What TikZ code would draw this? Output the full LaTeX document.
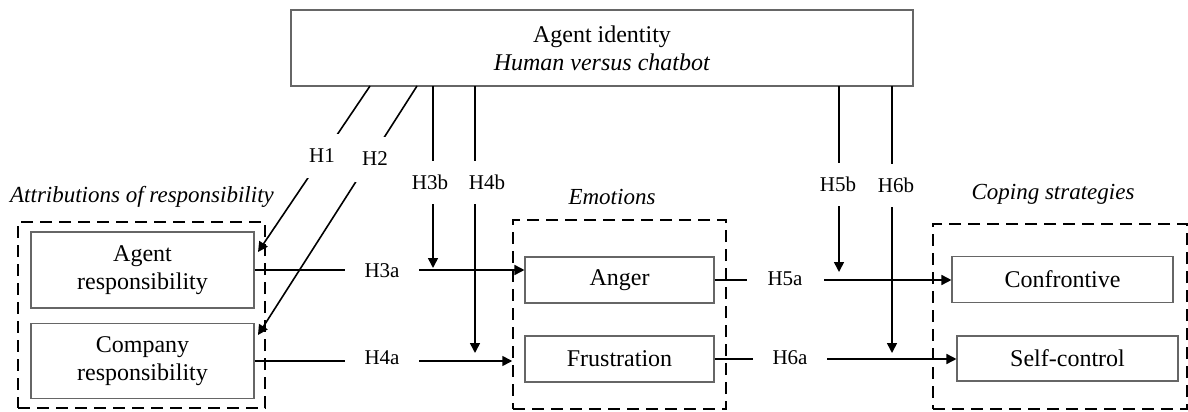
\documentclass[tikz,border=0pt]{standalone}
\usepackage{fontspec}
\setmainfont{Liberation Serif}
\usetikzlibrary{arrows.meta,calc}
\begin{document}
\begin{tikzpicture}[x=1pt,y=-1pt,
  box/.style={draw=black!60, line width=1.1pt, align=center, inner sep=0pt,
              font=\fontsize{24}{28}\selectfont},
  grp/.style={draw=black, line width=1.5pt, dash pattern=on 12pt off 7pt, inner sep=0pt},
  head/.style={font=\fontsize{23}{27}\selectfont\itshape, inner sep=0pt},
  hlab/.style={fill=white, inner sep=0pt, font=\fontsize{21}{24}\selectfont},
  arr/.style={line width=1.6pt, -{Triangle[length=10pt,width=10pt]}}]
\useasboundingbox (0,0) rectangle (1188,412);

% group frames
\node[grp, minimum width=247pt, minimum height=186pt] (attr) at (141.5,315) {};
\node[grp, minimum width=213pt, minimum height=189pt] (emo) at (619.5,314.5) {};
\node[grp, minimum width=254pt, minimum height=185pt] (cop) at (1060,316.5) {};

% headings
\node[head] (hattr) at (142,197) {Attributions of responsibility};
\node[head] (hemo) at (612,197) {Emotions};
\node[head] (hcop) at (1053,194) {Coping strategies};

% boxes
\node[box, minimum width=622pt, minimum height=76pt] (top) at (602,48)
  {Agent identity\\\textit{Human versus chatbot}};
\node[box, minimum width=223pt, minimum height=76pt] (ag) at (142.5,270) {Agent\\responsibility};
\node[box, minimum width=223pt, minimum height=75pt] (co) at (142.5,361) {Company\\responsibility};
\node[box, minimum width=189pt, minimum height=46pt] (an) at (619.5,280) {Anger};
\node[box, minimum width=189pt, minimum height=46pt] (fr) at (619.5,359) {Frustration};
\node[box, minimum width=221pt, minimum height=46pt] (cf) at (1062.5,279.5) {Confrontive};
\node[box, minimum width=221pt, minimum height=45pt] (sc) at (1067.5,358.5) {Self-control};

% connector end points
\coordinate (h1s) at (370,86);  \coordinate (h1e) at (258,252);
\coordinate (h2s) at (417,86);  \coordinate (h2e) at (258,335);
\coordinate (h3bs) at (433,86); \coordinate (h3be) at (433,268);
\coordinate (h4bs) at (475,86); \coordinate (h4be) at (475,353);
\coordinate (h5bs) at (839,86); \coordinate (h5be) at (839,272);
\coordinate (h6bs) at (892,86); \coordinate (h6be) at (892,353);

% connectors
\draw[arr] (h1s) -- (h1e);
\draw[arr] (h2s) -- (h2e);
\draw[arr] (h3bs) -- (h3be);
\draw[arr] (h4bs) -- (h4be);
\draw[arr] (h5bs) -- (h5be);
\draw[arr] (h6bs) -- (h6be);
\draw[arr] (ag.east) -- (ag.east -| an.west);
\draw[arr] (co.east) -- (co.east -| emo.west);
\draw[arr] (an.east) -- (an.east -| cf.west);
\draw[arr] (fr.east) -- (fr.east -| sc.west);

% labels
\node[hlab, minimum width=40pt, minimum height=44pt] (lh1) at (322,156) {H1};
\node[hlab, minimum width=40pt, minimum height=45pt] (lh2) at (375,159) {H2};
\node[hlab, minimum width=42pt, minimum height=43pt] (lh3b) at (430,182) {H3b};
\node[hlab, minimum width=42pt, minimum height=43pt] (lh4b) at (487,182) {H4b};
\node[hlab, minimum width=42pt, minimum height=43pt] (lh5b) at (838,184) {H5b};
\node[hlab, minimum width=42pt, minimum height=43pt] (lh6b) at (896,185) {H6b};
\node[hlab, minimum width=74pt, minimum height=28pt] (lh3a) at (382,271) {H3a};
\node[hlab, minimum width=74pt, minimum height=28pt] (lh4a) at (382,358) {H4a};
\node[hlab, minimum width=77pt, minimum height=28pt] (lh5a) at (785,279) {H5a};
\node[hlab, minimum width=74pt, minimum height=28pt] (lh6a) at (790,358) {H6a};
\end{tikzpicture}
\end{document}
